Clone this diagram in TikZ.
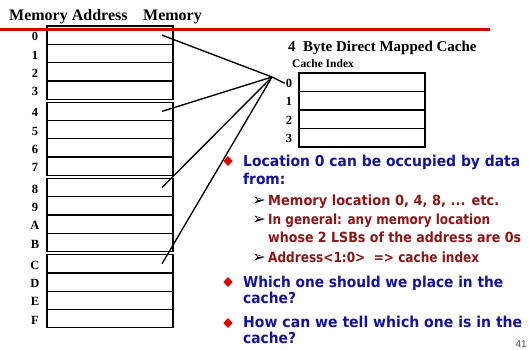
\documentclass[tikz,border=0pt]{standalone}
\usepackage{fontspec}
\setmainfont{Liberation Serif}
\setsansfont{Liberation Sans}
\newfontfamily\bulletfont[FakeStretch=0.92]{DejaVu Sans}
\newfontfamily\symfont{DejaVu Sans}
\usetikzlibrary{calc,shapes.geometric}
\definecolor{titlered}{RGB}{210,0,0}
\definecolor{textblue}{RGB}{18,18,155}
\definecolor{textred}{RGB}{140,22,22}
\definecolor{bulletred}{RGB}{222,0,0}
\definecolor{pagegray}{RGB}{70,70,70}
% set a line of text to a given width, keeping its height
\newcommand\setwidth[2]{\resizebox{#1}{\height}{#2}}
\begin{document}
\begin{tikzpicture}[x=1pt,y=-1pt,
  cell/.style={draw=black,line width=1.35pt,minimum width=126pt,minimum height=18.3pt,inner sep=0pt,outer sep=0pt},
  addr/.style={font=\fontsize{12.5}{12.5}\selectfont\bfseries,inner sep=1pt},
  head/.style={anchor=base west,inner sep=0pt,font=\bfseries},
  link/.style={line width=1.35pt,black},
  main/.style={anchor=base west,inner sep=0pt,text=textblue,font=\bulletfont\bfseries\fontsize{15}{18}\selectfont},
  sub/.style={anchor=base west,inner sep=0pt,text=textred,font=\bulletfont\bfseries\fontsize{14}{17}\selectfont},
  diam/.style={diamond,fill=bulletred,inner sep=0pt,minimum width=9.5pt,minimum height=10pt},
  arr/.style={inner sep=0pt,text=black,font=\symfont\fontsize{16}{16}\selectfont}]
\useasboundingbox (0,0) rectangle (529,349);

% memory: four blocks of four bytes
\foreach \lab [count=\n from 0] in {0,1,2,3,4,5,6,7,8,9,A,B,C,D,E,F}{
  \pgfmathtruncatemacro\g{int(\n/4)}
  \pgfmathtruncatemacro\r{mod(\n,4)}
  \pgfmathsetmacro\yc{26+76.2*\g+18.3*\r+9.15}
  \node[cell] (m\lab) at (110,\yc) {};
  \node[addr] (a\lab) at (35,\yc+1.5) {\lab};
}

% cache: four one-byte lines
\foreach \lab [count=\n from 0] in {0,1,2,3}{
  \pgfmathsetmacro\yc{73+18.5*\n+9.25}
  \node[cell,minimum height=18.5pt] (c\lab) at (362,\yc) {};
  \node[addr] (ci\lab) at (289,\yc+1) {\lab};
}

% headings
\node[head,font=\fontsize{16}{16}\selectfont\bfseries] (hAddr) at (9,20.5) {Memory Address};
\node[head,font=\fontsize{16}{16}\selectfont\bfseries] (hMem) at (143,20.5) {Memory};
\draw[titlered,line width=3pt] (0,29) -- (490,29);
\node[head,font=\fontsize{15}{15}\selectfont\bfseries] (hCache) at (288,51) {4\ \ Byte Direct Mapped Cache};
\node[head,font=\fontsize{11.5}{11.5}\selectfont\bfseries] (hIdx) at (292,67) {Cache Index};

% mapping of addresses 0, 4, 8, C onto cache index 0
\coordinate (hub) at (272,77);
\foreach \lab in {0,4,8,C}{
  \coordinate (s\lab) at ($(m\lab.east)+(-11,0)$);
  \draw[link] (s\lab) -- (hub);
}
\draw[link] (hub) -- (ci0.west);

% bullet list
\node[diam] (d1) at (228,161) {};
\node[main] (t1) at (243,166) {\setwidth{277pt}{Location 0 can be occupied by data}};
\node[main] (t1b) at (243,184) {from:};
\node[arr] (p1) at (259,201) {➢};
\node[sub] (u1) at (268,205) {\setwidth{231pt}{Memory location 0, 4, 8, ... etc.}};
\node[arr] (p2) at (259,220) {➢};
\node[sub] (u2) at (268,224) {\setwidth{222pt}{In general: any memory location}};
\node[sub] (u2b) at (268,242) {\setwidth{253pt}{whose 2 LSBs of the address are 0s}};
\node[arr] (p3) at (259,258) {➢};
\node[sub] (u3) at (268,262) {\setwidth{211pt}{Address<1:0>\ \ => cache index}};
\node[diam] (d2) at (228,282) {};
\node[main] (t2) at (243,287) {\setwidth{260pt}{Which one should we place in the}};
\node[main] (t2b) at (243,303) {cache?};
\node[diam] (d3) at (228,323) {};
\node[main] (t3) at (243,327) {\setwidth{279pt}{How can we tell which one is in the}};
\node[main] (t3b) at (243,343) {cache?};
\node[anchor=base east,inner sep=0pt,text=pagegray,font=\fontsize{10}{10}\selectfont\sffamily] (pg) at (527,347) {41};
\end{tikzpicture}
\end{document}
